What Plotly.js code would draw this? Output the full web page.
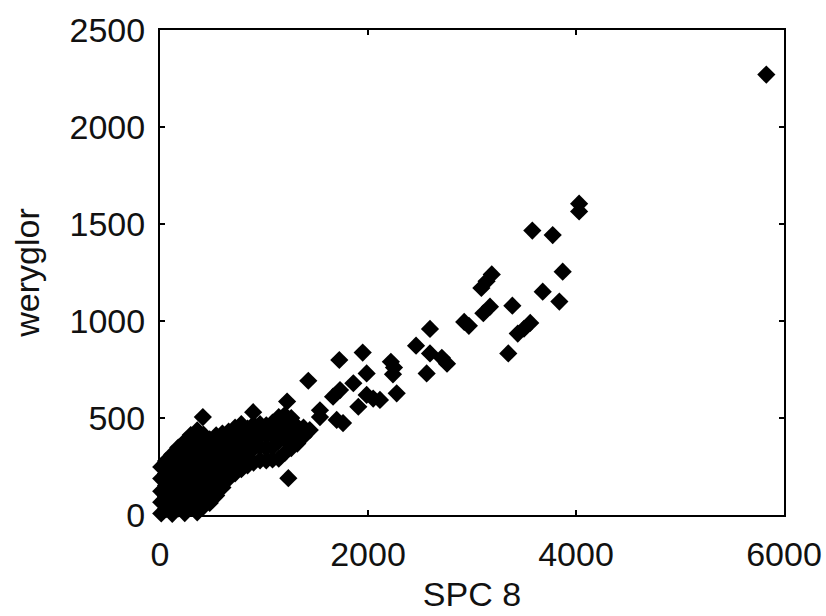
<!DOCTYPE html>
<html>
<head>
<meta charset="utf-8">
<script src="https://cdn.plot.ly/plotly-3.0.1.min.js"></script>
<style>html,body{margin:0;padding:0;background:#fff;}#chart{width:826px;height:616px;}</style>
</head>
<body>
<div id="chart"></div>
<script>
// Sparse upper tail of the cloud (SPC 8, weryglor)
var tailSpc = [5830, 4030, 4030, 3580, 3776, 3872, 3680, 3840, 3190, 3140, 3090, 3173, 3109, 3388,
  3560, 3500, 3440, 3349, 2970, 2925, 2596, 2462, 2596, 2710, 2760, 2564, 2220, 2250, 2240, 2276,
  2115, 1949, 1724, 1987, 1859, 1731, 1664, 1987, 2050, 1907, 1538, 1538, 1699, 1760, 1426, 1234];
var tailWer = [2270, 1605, 1565, 1466, 1443, 1254, 1151, 1100, 1240, 1205, 1170, 1074, 1040, 1079,
  990, 960, 935, 833, 975, 995, 959, 873, 833, 810, 780, 730, 790, 760, 725, 627,
  593, 837, 799, 730, 679, 644, 610, 619, 600, 558, 540, 505, 490, 474, 692, 190];

// Dense cluster near the origin
var coreSpc = [
  12, 12, 12, 12, 12,
  58, 58, 58, 58, 58,
  118, 118, 118, 118, 118, 118,
  176, 176, 176, 176, 176, 176,
  238, 238, 238, 238, 238, 238, 238,
  296, 296, 296, 296, 296, 296, 296,
  358, 358, 358, 358, 358, 358, 358, 358,
  418, 418, 418, 418, 418, 418, 418, 412,
  478, 478, 478, 478, 478, 478,
  540, 540, 540, 540, 540, 540,
  600, 600, 600, 600, 600, 600,
  660, 660, 660, 660, 660,
  722, 722, 722, 722, 722,
  782, 782, 782, 782, 782,
  842, 842, 842, 842,
  900, 900, 900, 900, 896,
  962, 962, 962, 962,
  1022, 1022, 1022, 1022,
  1082, 1082, 1082, 1082,
  1142, 1142, 1142, 1142,
  1200, 1200, 1200, 1200, 1222,
  1262, 1262, 1262, 1262,
  1320, 1320, 1320,
  1380, 1380,
  1440];
var coreWer = [
  8, 66, 122, 188, 248,
  30, 95, 152, 214, 278,
  6, 62, 128, 186, 246, 312,
  34, 92, 158, 218, 282, 348,
  10, 70, 126, 190, 252, 314, 378,
  40, 100, 162, 222, 286, 346, 412,
  14, 76, 132, 196, 256, 318, 382, 436,
  44, 106, 166, 232, 292, 352, 414, 505,
  62, 136, 200, 262, 326, 390,
  100, 170, 232, 292, 356, 410,
  142, 202, 262, 322, 384, 420,
  188, 240, 302, 366, 430,
  215, 272, 336, 398, 450,
  236, 300, 362, 424, 468,
  256, 318, 382, 446,
  270, 342, 404, 466, 530,
  282, 350, 414, 468,
  282, 344, 408, 462,
  286, 350, 412, 476,
  290, 382, 444, 505,
  320, 390, 452, 515, 585,
  345, 410, 455, 500,
  368, 420, 455,
  405, 450,
  438];

var xTicks = [0, 2000, 4000, 6000];
var yTicks = [0, 500, 1000, 1500, 2000, 2500];
var xTitle = 'SPC 8';
var yTitle = 'weryglor';

var markerStyle = {symbol: 'diamond', size: 14, color: '#000', line: {width: 0}};
var traces = [
  {x: coreSpc, y: coreWer, type: 'scatter', mode: 'markers', marker: markerStyle, cliponaxis: false, hoverinfo: 'x+y'},
  {x: tailSpc, y: tailWer, type: 'scatter', mode: 'markers', marker: markerStyle, cliponaxis: false, hoverinfo: 'x+y'}
];

var font = {family: 'Liberation Sans, Arial, sans-serif', size: 34, color: '#111'};
var layout = {
  width: 826, height: 616,
  margin: {l: 160, r: 42, t: 30, b: 101},
  paper_bgcolor: '#fff', plot_bgcolor: '#fff',
  showlegend: false,
  font: font,
  xaxis: {
    range: [0, 6000], tickvals: xTicks, ticktext: xTicks.map(String),
    ticks: 'inside', ticklen: 5, tickwidth: 2, tickcolor: '#000',
    showline: true, linecolor: '#000', linewidth: 2, mirror: 'ticks',
    showgrid: false, zeroline: false, ticklabelstandoff: 8,
    tickfont: font,
    title: {text: xTitle, font: font, standoff: 10}
  },
  yaxis: {
    range: [0, 2500], tickvals: yTicks, ticktext: yTicks.map(String),
    ticks: 'inside', ticklen: 5, tickwidth: 2, tickcolor: '#000',
    showline: true, linecolor: '#000', linewidth: 2, mirror: 'ticks',
    showgrid: false, zeroline: false, ticklabelstandoff: 6,
    tickfont: font,
    title: {text: yTitle, font: font, standoff: 20}
  }
};

Plotly.newPlot('chart', traces, layout, {displayModeBar: false, staticPlot: true});
</script>
</body>
</html>
